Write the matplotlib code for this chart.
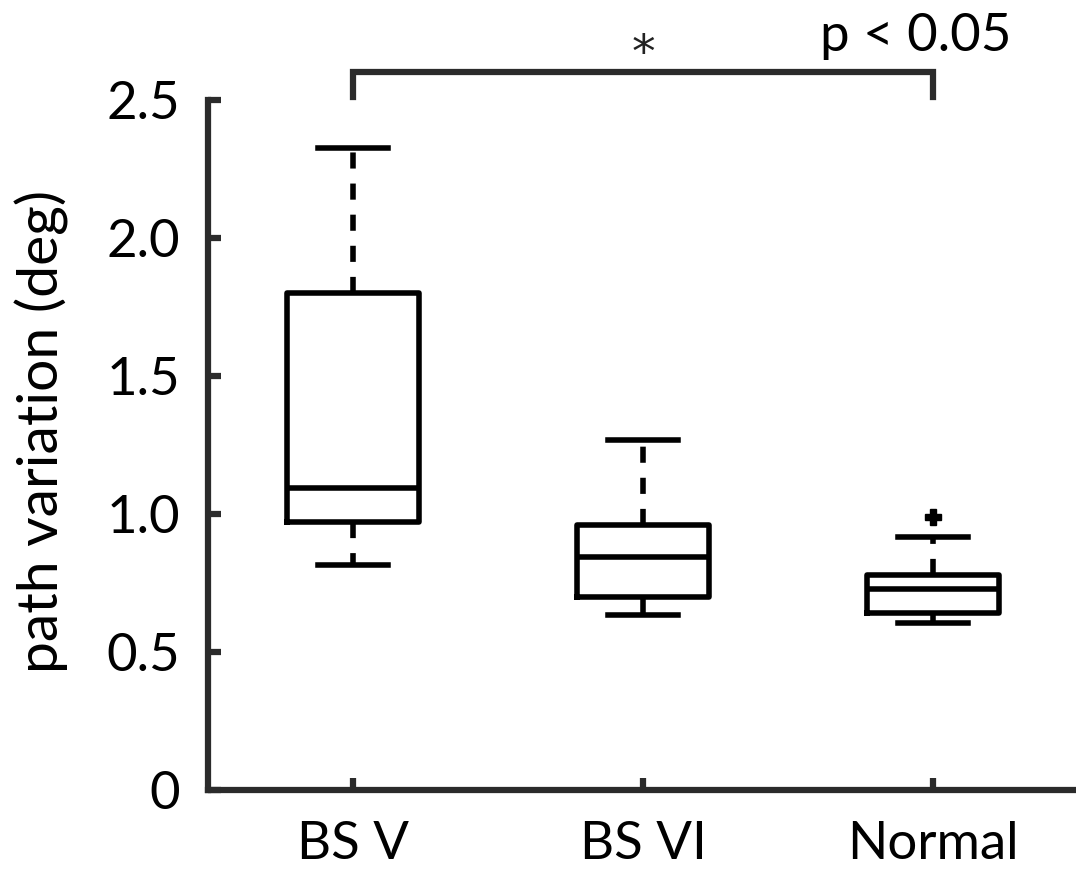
import matplotlib.pyplot as plt

groups = ["BS V", "BS VI", "Normal"]
whis_lo = [0.815, 0.634, 0.605]
q1 = [0.971, 0.699, 0.641]
medians = [1.094, 0.844, 0.728]
q3 = [1.80, 0.960, 0.779]
whis_hi = [2.326, 1.268, 0.917]
fliers = [[], [], [0.989]]

y_ticks = [0, 0.5, 1.0, 1.5, 2.0, 2.5]
y_ticklabels = ["0", "0.5", "1.0", "1.5", "2.0", "2.5"]

plt.rcParams['font.family'] = ['Lato', 'DejaVu Sans']

stats = []
for i, g in enumerate(groups):
    stats.append(dict(label=g, whislo=whis_lo[i], q1=q1[i], med=medians[i],
                      q3=q3[i], whishi=whis_hi[i], fliers=fliers[i]))

fig = plt.figure(figsize=(10.76, 8.69), dpi=100)
ax = fig.add_axes([0.1933, 0.0909, 0.8086, 0.794])

lw = 4
ax.bxp(stats, positions=[1, 2, 3], widths=0.455, capwidths=0.24,
       boxprops=dict(color='black', linewidth=lw),
       medianprops=dict(color='black', linewidth=lw),
       whiskerprops=dict(color='black', linewidth=lw, linestyle=(0, (2.9, 2.7)),
                         dash_capstyle='butt'),
       capprops=dict(color='black', linewidth=lw),
       flierprops=dict(marker='P', markersize=11, markerfacecolor='black',
                       markeredgecolor='black'))

ax.set_xlim(0.5, 3.5)
ax.set_ylim(0, 2.5)
ax.set_yticks(y_ticks)
ax.set_yticklabels(y_ticklabels)
ax.set_xticks([1, 2, 3])
ax.set_xticklabels(groups)

for s in ['top', 'right']:
    ax.spines[s].set_visible(False)
for s in ['left', 'bottom']:
    ax.spines[s].set_linewidth(4.5)
    ax.spines[s].set_color('#2b2b2b')

ax.tick_params(direction='in', length=9, width=4.5, color='#2b2b2b',
               labelsize=38, pad=22)
ax.tick_params(axis='y', pad=20)
ax.set_ylabel('path variation (deg)', fontsize=41)
ax.yaxis.set_label_coords(-0.16, 0.52)

# significance bracket
ax.plot([1, 1, 3, 3], [2.51, 2.60, 2.60, 2.51], color='#2b2b2b',
        linewidth=4.5, clip_on=False, solid_joinstyle='miter')
ax.text(2, 2.665, '*', ha='center', va='center', fontsize=34,
        family='DejaVu Sans', color='#222222')
ax.text(3.27, 2.645, 'p < 0.05', ha='right', va='bottom', fontsize=38)

fig.savefig('out.png', dpi=100)
